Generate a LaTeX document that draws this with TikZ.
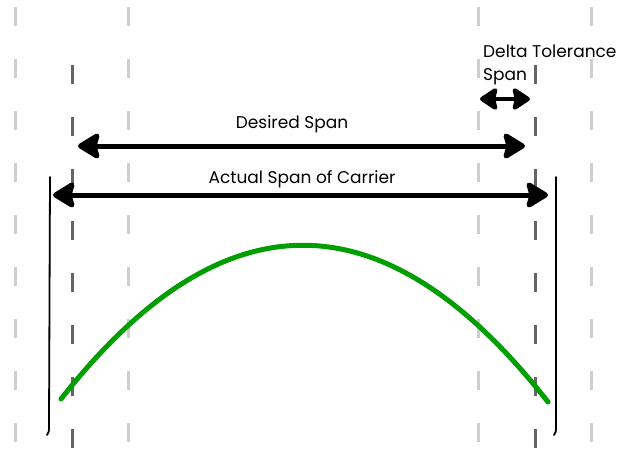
\documentclass[tikz,border=0pt]{standalone}
\usepackage{fontspec}
\setmainfont{Poppins}
\usetikzlibrary{arrows.meta}

\definecolor{carriergreen}{RGB}{0,158,0}
\definecolor{lightdash}{RGB}{206,206,206}
\definecolor{darkdash}{RGB}{100,100,100}

\begin{document}
\begin{tikzpicture}[
    x=1pt, y=-1pt,
    lightguide/.style={draw=lightdash, line width=3pt, dash pattern=on 19pt off 33pt},
    darkguide/.style={draw=darkdash, line width=3pt, dash pattern=on 19pt off 33pt},
    spanarrow/.style={line width=5pt, {Stealth[length=25pt,width=30pt,inset=4pt,round]}-{Stealth[length=25pt,width=30pt,inset=4pt,round]}},
    deltaarrow/.style={line width=4.5pt, {Stealth[length=20pt,width=26pt,inset=3pt,round]}-{Stealth[length=20pt,width=26pt,inset=3pt,round]}},
    edgeline/.style={draw=black, line width=1.8pt, line cap=round},
    carrier/.style={draw=carriergreen, line width=5pt, line cap=round},
    lbl/.style={inner sep=0pt, font=\fontsize{17}{23}\selectfont}
]
    \useasboundingbox (0,0) rectangle (618,448);

    % guide lines
    \foreach \gx in {15,128,478,591}
        \draw[lightguide] (\gx,7) -- (\gx,448);
    \foreach \gx in {72,535}
        \draw[darkguide] (\gx,65) -- (\gx,448);

    % carrier edges
    \draw[edgeline] (50,177) -- (49,426) .. controls (49,432) .. (47,435);
    \draw[edgeline] (556,177) -- (556,426) .. controls (556,432) .. (554,435);

    % carrier profile
    \draw[carrier] (61,399) .. controls (223,193) and (385,194) .. (548,402);

    % span arrows
    \coordinate (desL) at (78,146);
    \coordinate (desR) at (525,146);
    \coordinate (actL) at (53,195);
    \coordinate (actR) at (548,195);
    \coordinate (delL) at (480,99);
    \coordinate (delR) at (530,99);

    \draw[spanarrow] (desL) -- (desR);
    \draw[spanarrow] (actL) -- (actR);
    \draw[deltaarrow] (delL) -- (delR);

    % labels
    \node[lbl, anchor=base] (desired) at (292,128) {Desired Span};
    \node[lbl, anchor=base] (actual) at (302,183) {Actual Span of Carrier};
    \node[lbl, anchor=base west, align=left] (delta) at (483,80) {Delta Tolerance\\Span};
\end{tikzpicture}
\end{document}
